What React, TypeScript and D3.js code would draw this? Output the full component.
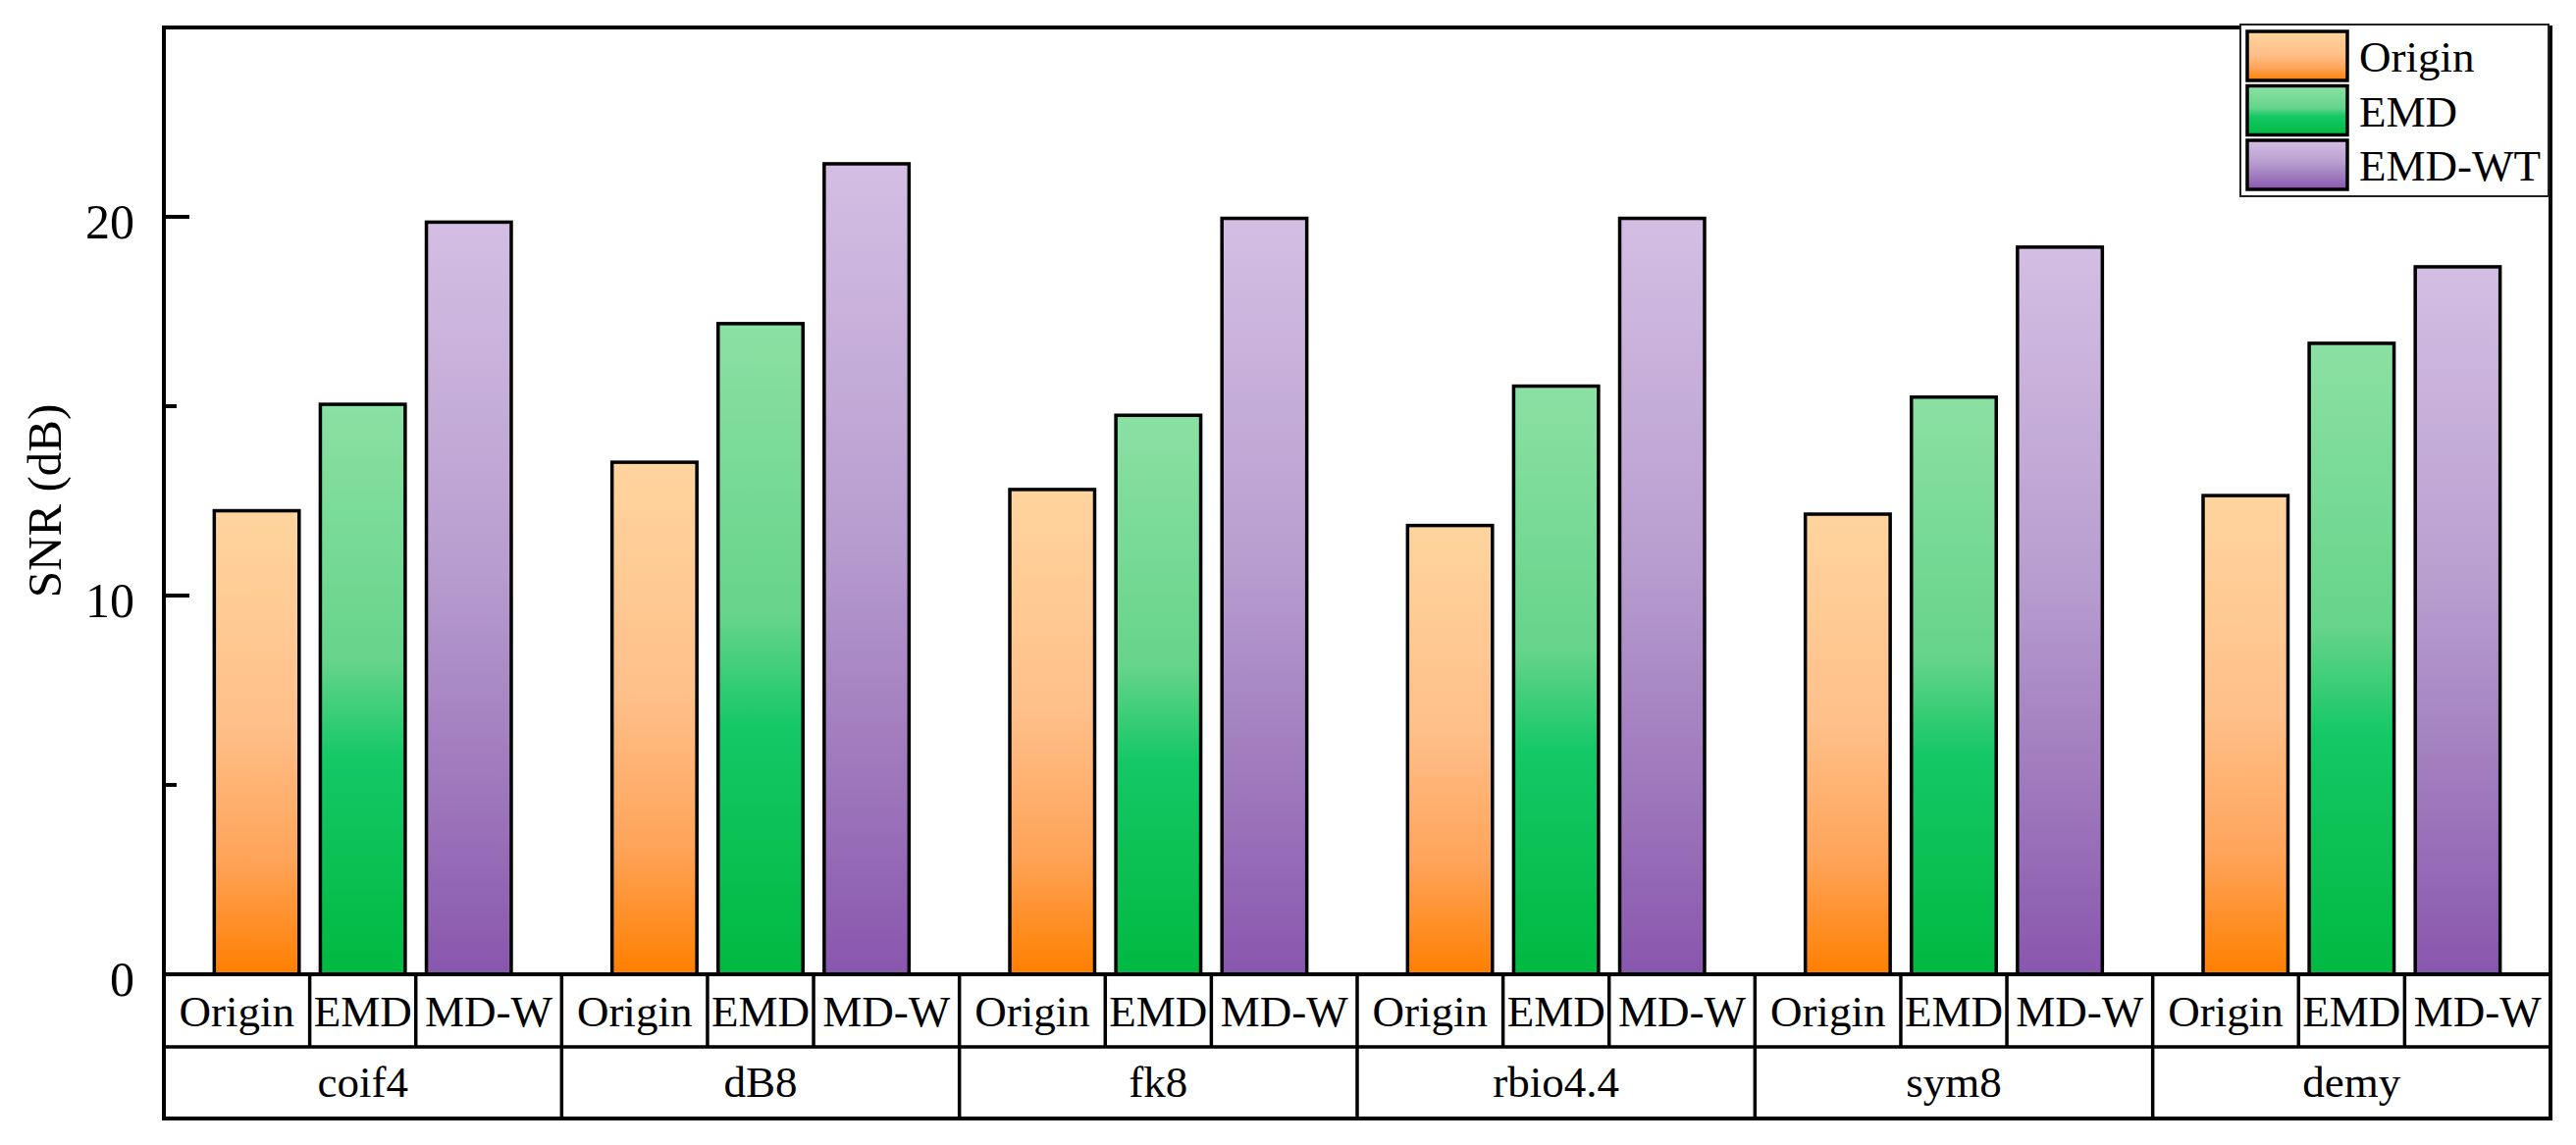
import React from 'react';
import * as d3 from 'd3';

// wavelet bases (categories) and the three methods
const categories = ['coif4', 'dB8', 'fk8', 'rbio4.4', 'sym8', 'demy'];
const seriesNames = ['Origin', 'EMD', 'EMD-WT'];
const cellLabels = ['Origin', 'EMD', 'MD-W'];

// SNR (dB)
const originValues = [12.24, 13.52, 12.8, 11.85, 12.15, 12.64];
const emdValues = [15.05, 17.18, 14.76, 15.53, 15.24, 16.66];
const emdWtValues = [19.86, 21.4, 19.96, 19.96, 19.2, 18.68];

const yMajorTicks = [0, 10, 20];
const yMinorTicks = [5, 15];

const seriesValues = [originValues, emdValues, emdWtValues];

const W = 2625;
const H = 1167;
const frame = { left: 167, right: 2599, top: 28, plotBottom: 993, row1: 1067, row2: 1140 };
const FONT = "'Liberation Serif', 'Times New Roman', serif";

// gradient stops per series (top -> bottom)
const gradients: Record<string, [number, string][]> = {
  Origin: [[0, '#FFD49E'], [0.45, '#FFC08A'], [0.75, '#FFA45A'], [1, '#FF7F00']],
  EMD: [[0, '#8BE0A3'], [0.45, '#66D48A'], [0.62, '#14C866'], [1, '#00B940']],
  'EMD-WT': [[0, '#D4BEE3'], [0.45, '#B89ED0'], [0.75, '#9E78BC'], [1, '#8956AE']],
};

export default function App() {
  const x0 = d3.scaleBand<string>().domain(categories).range([frame.left, frame.right]).padding(0);
  const x1 = d3.scaleBand<string>().domain(seriesNames).range([0, x0.bandwidth()])
    .paddingInner(0.2).paddingOuter(0.475);
  const y = d3.scaleLinear().domain([0, 25]).range([frame.plotBottom, frame.top]);

  const gradId = (s: string) => 'grad-' + s.replace(/[^a-zA-Z]/g, '');

  // sub-cell boundaries: midpoints between neighbouring bar centres
  const subBounds: number[] = [];
  for (let i = 0; i < seriesNames.length - 1; i++) {
    const c1 = (x1(seriesNames[i]) ?? 0) + x1.bandwidth() / 2;
    const c2 = (x1(seriesNames[i + 1]) ?? 0) + x1.bandwidth() / 2;
    subBounds.push((c1 + c2) / 2);
  }
  const cellEdges = [0, ...subBounds, x0.bandwidth()];

  const lg = { x: 2283, y: 25, w: 314, h: 175, sx: 2290, sw: 102, sh: 50, rowStep: 55.5, tx: 2404 };

  return (
    <svg width={W} height={H} style={{ position: 'absolute', left: 0, top: 0, background: '#fff' }}
      fontFamily={FONT}>
      <defs>
        {seriesNames.map((s) => (
          <linearGradient key={s} id={gradId(s)} x1="0" y1="0" x2="0" y2="1">
            {gradients[s].map(([o, c]) => <stop key={o} offset={o} stopColor={c} />)}
          </linearGradient>
        ))}
      </defs>

      {/* bars */}
      {categories.map((cat, ci) => (
        <g key={cat} transform={`translate(${x0(cat)},0)`}>
          {seriesNames.map((s, si) => {
            const v = seriesValues[si][ci];
            return (
              <rect key={s} x={x1(s)} y={y(v)} width={x1.bandwidth()} height={y(0) - y(v)}
                fill={`url(#${gradId(s)})`} stroke="#000" strokeWidth={3.5} />
            );
          })}
        </g>
      ))}

      {/* y ticks (inward) */}
      {yMajorTicks.map((t) => (
        <g key={t}>
          <line x1={frame.left} x2={frame.left + 26} y1={y(t)} y2={y(t)} stroke="#000" strokeWidth={4} />
          <text x={137} y={y(t) + 22} textAnchor="end" fontSize={50}>{t}</text>
        </g>
      ))}
      {yMinorTicks.map((t) => (
        <line key={t} x1={frame.left} x2={frame.left + 13} y1={y(t)} y2={y(t)} stroke="#000" strokeWidth={4} />
      ))}

      <text transform={`translate(62,${(frame.top + frame.plotBottom) / 2}) rotate(-90)`}
        textAnchor="middle" fontSize={49}>SNR (dB)</text>

      {/* table under the plot */}
      {categories.map((cat) => {
        const cx = x0(cat) ?? 0;
        return (
          <g key={cat}>
            {subBounds.map((b, i) => (
              <line key={i} x1={cx + b} x2={cx + b} y1={frame.plotBottom} y2={frame.row1}
                stroke="#000" strokeWidth={3.5} />
            ))}
            {cellLabels.map((lab, i) => (
              <text key={lab} x={cx + (cellEdges[i] + cellEdges[i + 1]) / 2} y={frame.row1 - 21}
                textAnchor="middle" fontSize={45}>{lab}</text>
            ))}
            <text x={cx + x0.bandwidth() / 2} y={frame.row2 - 22} textAnchor="middle" fontSize={45}>{cat}</text>
          </g>
        );
      })}
      {categories.slice(1).map((cat) => (
        <line key={cat} x1={x0(cat)} x2={x0(cat)} y1={frame.plotBottom} y2={frame.row2}
          stroke="#000" strokeWidth={3.5} />
      ))}
      <line x1={frame.left} x2={frame.right} y1={frame.plotBottom} y2={frame.plotBottom} stroke="#000" strokeWidth={4} />
      <line x1={frame.left} x2={frame.right} y1={frame.row1} y2={frame.row1} stroke="#000" strokeWidth={3.5} />

      {/* outer frame */}
      <rect x={frame.left} y={frame.top} width={frame.right - frame.left} height={frame.row2 - frame.top}
        fill="none" stroke="#000" strokeWidth={4} />

      {/* legend */}
      <rect x={lg.x} y={lg.y} width={lg.w} height={lg.h} fill="#fff" stroke="#222" strokeWidth={2} />
      {seriesNames.map((s, i) => {
        const ry = lg.y + 7 + i * lg.rowStep;
        return (
          <g key={s}>
            <rect x={lg.sx} y={ry} width={lg.sw} height={lg.sh} fill={`url(#${gradId(s)})`}
              stroke="#000" strokeWidth={3.5} />
            <text x={lg.tx} y={ry + lg.sh / 2 + 16} fontSize={45}>{s}</text>
          </g>
        );
      })}
    </svg>
  );
}
